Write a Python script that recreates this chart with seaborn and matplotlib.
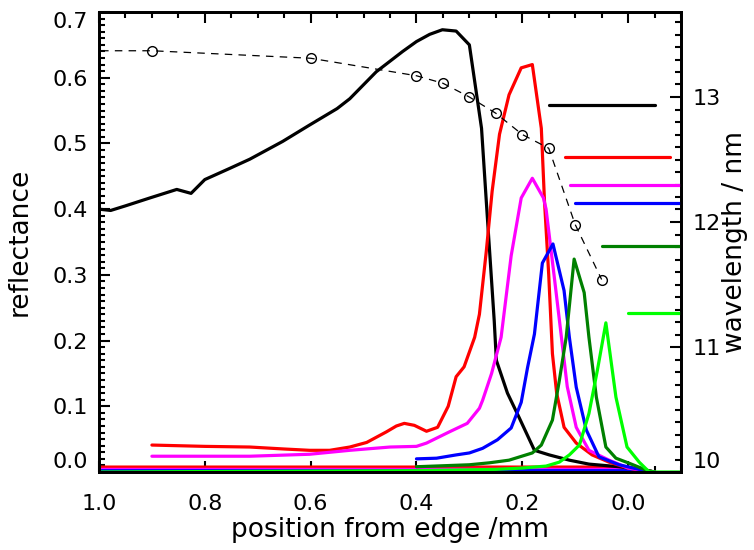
import matplotlib
matplotlib.use("Agg")
import matplotlib.pyplot as plt
import seaborn as sns
from matplotlib.ticker import MultipleLocator, FixedLocator, FormatStrFormatter

# Reflectance profiles across the edge (position in mm, reflectance)
pos_black = [1.0, 0.978, 0.95, 0.904, 0.853, 0.826, 0.80, 0.753, 0.715, 0.653, 0.602,
             0.55, 0.526, 0.476, 0.426, 0.40, 0.375, 0.351, 0.325, 0.30, 0.277, 0.268,
             0.253, 0.249, 0.228, 0.206, 0.177, 0.149, 0.111, 0.074, 0.017, -0.03, -0.05]
refl_black = [0.40, 0.398, 0.405, 0.417, 0.430, 0.424, 0.445, 0.462, 0.476, 0.503, 0.528,
              0.553, 0.568, 0.609, 0.640, 0.655, 0.666, 0.673, 0.671, 0.650, 0.523, 0.412,
              0.23, 0.17, 0.12, 0.083, 0.033, 0.026, 0.018, 0.012, 0.008, 0.003, 0.0]

pos_red = [0.90, 0.80, 0.715, 0.65, 0.602, 0.564, 0.526, 0.494, 0.457, 0.438, 0.423, 0.404,
           0.381, 0.36, 0.34, 0.325, 0.31, 0.29, 0.281, 0.268, 0.257, 0.243, 0.225, 0.202,
           0.181, 0.164, 0.158, 0.15, 0.143, 0.135, 0.121, 0.098, 0.068, 0.036, 0.0, -0.05]
refl_red = [0.041, 0.039, 0.038, 0.035, 0.033, 0.033, 0.038, 0.045, 0.061, 0.070, 0.074, 0.071,
            0.062, 0.068, 0.10, 0.145, 0.16, 0.205, 0.24, 0.336, 0.427, 0.514, 0.574, 0.615,
            0.62, 0.523, 0.412, 0.30, 0.18, 0.12, 0.068, 0.044, 0.026, 0.015, 0.006, 0.0]

pos_magenta = [0.90, 0.715, 0.602, 0.526, 0.45, 0.40, 0.381, 0.338, 0.304, 0.281, 0.275,
               0.258, 0.24, 0.221, 0.202, 0.181, 0.16, 0.155, 0.14, 0.126, 0.115, 0.098,
               0.074, 0.036, 0.0, -0.05]
refl_magenta = [0.024, 0.024, 0.027, 0.033, 0.038, 0.039, 0.044, 0.061, 0.074, 0.097, 0.109,
                0.15, 0.205, 0.329, 0.417, 0.447, 0.417, 0.40, 0.30, 0.205, 0.13, 0.068,
                0.033, 0.018, 0.006, 0.0]

pos_blue = [0.40, 0.362, 0.325, 0.30, 0.275, 0.247, 0.221, 0.202, 0.19, 0.177, 0.162, 0.142,
            0.121, 0.111, 0.098, 0.079, 0.055, 0.017, -0.026, -0.05]
refl_blue = [0.02, 0.021, 0.026, 0.029, 0.036, 0.049, 0.067, 0.106, 0.159, 0.21, 0.318, 0.347,
             0.276, 0.205, 0.129, 0.064, 0.023, 0.011, 0.003, 0.0]

pos_green = [0.40, 0.30, 0.262, 0.225, 0.181, 0.164, 0.143, 0.13, 0.117, 0.102, 0.083, 0.074,
             0.06, 0.042, 0.023, 0.0, -0.034, -0.05]
refl_green = [0.008, 0.011, 0.014, 0.018, 0.029, 0.041, 0.079, 0.139, 0.205, 0.324, 0.273, 0.205,
              0.114, 0.038, 0.021, 0.014, 0.003, 0.0]

pos_lime = [1.0, 0.40, 0.25, 0.20, 0.155, 0.13, 0.111, 0.092, 0.074, 0.058, 0.042, 0.023,
            0.002, -0.021, -0.04, -0.1]
refl_lime = [0.0, 0.002, 0.004, 0.006, 0.009, 0.015, 0.026, 0.041, 0.089, 0.155, 0.227, 0.114,
             0.038, 0.015, 0.0, 0.0]

# Background levels outside the measured range
floor_pos = [1.0, 0.0, -0.05]
floor_red = [0.0075, 0.0075, 0.0]
floor_magenta = [0.004, 0.004, 0.0]
floor_blue = [0.002, 0.002, 0.0]

# Wavelength of each profile (nm) and the span of its marker bar (mm)
level_wavelength = [12.94, 12.52, 12.30, 12.15, 11.81, 11.27]
level_start = [0.15, 0.12, 0.11, 0.10, 0.05, 0.0]
level_end = [-0.05, -0.08, -0.10, -0.10, -0.10, -0.10]

# Wavelength versus position
pos_fit = [1.1, 0.9, 0.6, 0.4, 0.35, 0.30, 0.25, 0.20, 0.15, 0.10, 0.05]
wl_fit = [13.37, 13.37, 13.31, 13.17, 13.11, 13.00, 12.87, 12.70, 12.59, 11.98, 11.54]

x_ticks = [1.0, 0.8, 0.6, 0.4, 0.2, 0.0]
y_ticks = [0.0, 0.1, 0.2, 0.3, 0.4, 0.5, 0.6, 0.7]
wl_ticks = [10, 11, 12, 13]

colors = ["black", "#ff0000", "#ff00ff", "#0000ff", "#008000", "#00ff00"]

sns.set_style("ticks")
plt.rcParams["font.family"] = ["DejaVu Sans"]
plt.rcParams.update({"text.color": "black", "axes.labelcolor": "black",
                     "xtick.color": "black", "ytick.color": "black",
                     "axes.edgecolor": "black"})

fig = plt.figure(figsize=(7.54, 5.5), dpi=100)
ax = fig.add_axes([99 / 754, 1 - 472 / 550, (681 - 99) / 754, (472 - 12) / 550])
ax2 = ax.twinx()

lw = 2.3
for fx, fy, c in [(floor_pos, floor_red, colors[1]),
                  (floor_pos, floor_magenta, colors[2]),
                  (floor_pos, floor_blue, colors[3])]:
    sns.lineplot(x=fx, y=fy, ax=ax, color=c, lw=lw, sort=False, estimator=None)

profiles = [(pos_black, refl_black), (pos_red, refl_red), (pos_magenta, refl_magenta),
            (pos_blue, refl_blue), (pos_green, refl_green), (pos_lime, refl_lime)]
for (px, py), c in zip(profiles, colors):
    sns.lineplot(x=px, y=py, ax=ax, color=c, lw=lw, sort=False, estimator=None)

# Wavelength markers and the wavelength-position trend on the right axis
for w, x0, x1, c in zip(level_wavelength, level_start, level_end, colors):
    sns.lineplot(x=[x0, x1], y=[w, w], ax=ax2, color=c, lw=lw, sort=False, estimator=None)

sns.lineplot(x=pos_fit, y=wl_fit, ax=ax2, color="black", lw=0.9, sort=False, estimator=None,
             linestyle=(0, (6, 5)), marker="o", markersize=7, markerfacecolor="none",
             markeredgecolor="black", markeredgewidth=1.0)

ax.set_xlim(1.0, -0.1)
ax.set_ylim(0.0, 0.7)
ax2.set_ylim(10.0, 13.68)

ax.xaxis.set_major_locator(FixedLocator(x_ticks))
ax.xaxis.set_minor_locator(MultipleLocator(0.05))
ax.xaxis.set_major_formatter(FormatStrFormatter("%.1f"))
ax.yaxis.set_major_locator(FixedLocator(y_ticks))
ax.yaxis.set_minor_locator(MultipleLocator(0.01))
ax.yaxis.set_major_formatter(FormatStrFormatter("%.1f"))
ax2.yaxis.set_major_locator(FixedLocator(wl_ticks))
ax2.yaxis.set_minor_locator(MultipleLocator(0.1))
ax2.yaxis.set_major_formatter(FormatStrFormatter("%d"))

ax.tick_params(axis="x", which="both", direction="in", top=True, bottom=True, width=1.5,
               labelsize=16, pad=16)
ax.tick_params(axis="y", which="both", direction="in", left=True, right=False, width=1.5,
               labelsize=16, pad=8)
ax2.tick_params(axis="y", which="both", direction="in", left=False, right=True, width=1.5,
                labelsize=16, pad=8)
for a in (ax, ax2):
    a.tick_params(which="major", length=8)
    a.tick_params(which="minor", length=4)
    for s in a.spines.values():
        s.set_linewidth(2.0)
        s.set_color("black")

# Keep the end labels inside the frame
yl = ax.get_yticklabels()
yl[0].set_va("bottom")
yl[-1].set_va("top")
ax2.get_yticklabels()[0].set_va("bottom")

ax.set_xlabel("position from edge /mm", fontsize=19, labelpad=2)
ax.set_ylabel("reflectance", fontsize=19, labelpad=14)
ax2.set_ylabel("wavelength / nm", fontsize=19, labelpad=1)

fig.savefig("out.png", dpi=100)
